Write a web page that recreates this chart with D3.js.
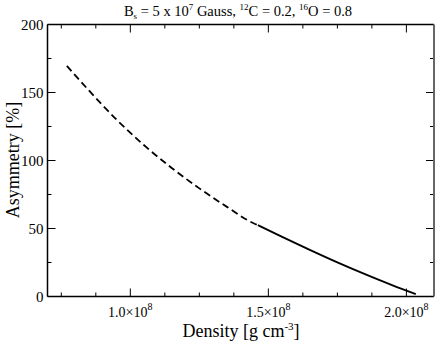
<!DOCTYPE html>
<html><head><meta charset="utf-8">
<script src="https://cdn.jsdelivr.net/npm/d3@7"></script>
<style>body{margin:0;background:#fff}svg{display:block}</style>
</head><body><svg id="c" width="436" height="344" font-family="'Liberation Serif', 'Times New Roman', Times, 'DejaVu Serif', serif"></svg>
<script>
// Density [g cm^-3] and asymmetry [%]
const dashedDensity = [0.77e8, 0.85e8, 0.95e8, 1.05e8, 1.15e8, 1.25e8, 1.35e8, 1.45e8, 1.462e8];
const dashedAsym    = [169.6, 151.5, 130.1, 111.2, 94.5, 79.5, 65.9, 53.5, 52.5];
const solidDensity  = [1.462e8, 1.55e8, 1.65e8, 1.75e8, 1.85e8, 1.95e8, 2.034e8];
const solidAsym     = [52.5, 43.8, 34.3, 25.1, 16.4, 8.2, 1.8];
const xMajorTicks = [1.0e8, 1.5e8, 2.0e8];
const xMinorTicks = [0.75e8, 0.875e8, 1.125e8, 1.25e8, 1.375e8, 1.625e8, 1.75e8, 1.875e8];
const yMajorTicks = [0, 50, 100, 150, 200];
const yMinorTicks = [25, 75, 125, 175];

const svg = d3.select("#c");
const L = 47.5, R = 434, T = 24.5, B = 296.5;
const x = d3.scaleLinear().domain([0.7e8, 2.1e8]).range([L, R]);
const y = d3.scaleLinear().domain([0, 200]).range([B, T]);

const line = d3.line().x(d => x(d[0])).y(d => y(d[1])).curve(d3.curveMonotoneX);
svg.append("path").datum(dashedDensity.map((d,i)=>[d,dashedAsym[i]]))
  .attr("d", line).attr("fill","none").attr("stroke","#000").attr("stroke-width",1.8)
  .attr("stroke-dasharray","7,4");
svg.append("path").datum(solidDensity.map((d,i)=>[d,solidAsym[i]]))
  .attr("d", line).attr("fill","none").attr("stroke","#000").attr("stroke-width",1.8);

// ticks (inward, all four sides)
const g = svg.append("g").attr("stroke","#000").attr("stroke-width",1);
xMajorTicks.forEach(t => {
  g.append("line").attr("x1",x(t)).attr("x2",x(t)).attr("y1",B).attr("y2",B-8);
  g.append("line").attr("x1",x(t)).attr("x2",x(t)).attr("y1",T).attr("y2",T+8);
});
xMinorTicks.forEach(t => {
  g.append("line").attr("x1",x(t)).attr("x2",x(t)).attr("y1",B).attr("y2",B-4);
  g.append("line").attr("x1",x(t)).attr("x2",x(t)).attr("y1",T).attr("y2",T+4);
});
yMajorTicks.forEach(t => {
  g.append("line").attr("x1",L).attr("x2",L+8).attr("y1",y(t)).attr("y2",y(t));
  g.append("line").attr("x1",R).attr("x2",R-8).attr("y1",y(t)).attr("y2",y(t));
});
yMinorTicks.forEach(t => {
  g.append("line").attr("x1",L).attr("x2",L+4).attr("y1",y(t)).attr("y2",y(t));
  g.append("line").attr("x1",R).attr("x2",R-4).attr("y1",y(t)).attr("y2",y(t));
});

// frame
svg.append("line").attr("x1",L).attr("x2",R).attr("y1",T).attr("y2",T).attr("stroke","#000").attr("stroke-width",1.5);
svg.append("line").attr("x1",L).attr("x2",R).attr("y1",B).attr("y2",B).attr("stroke","#000").attr("stroke-width",1.5);
svg.append("line").attr("x1",L).attr("x2",L).attr("y1",T).attr("y2",B).attr("stroke","#000").attr("stroke-width",1.5);
svg.append("line").attr("x1",R).attr("x2",R).attr("y1",T).attr("y2",B).attr("stroke","#666").attr("stroke-width",2);

// y tick labels
yMajorTicks.forEach(t => {
  svg.append("text").attr("x",L-4).attr("y",y(t)+5).attr("text-anchor","end")
    .attr("font-size",15).text(t);
});
// x tick labels
xMajorTicks.forEach(t => {
  const tx = svg.append("text").attr("x",x(t)).attr("y",317).attr("text-anchor","middle").attr("font-size",14);
  tx.append("tspan").text((t/1e8).toFixed(1) + "\u00d710");
  tx.append("tspan").attr("dy",-7).attr("font-size",10).text("8");
});

// axis titles
svg.append("text").attr("transform","translate(19,160) rotate(-90)").attr("text-anchor","middle")
  .attr("font-size",18).text("Asymmetry [%]");
const xt = svg.append("text").attr("x",241).attr("y",337).attr("text-anchor","middle").attr("font-size",18);
xt.append("tspan").text("Density [g cm");
xt.append("tspan").attr("dy",-7).attr("font-size",11).text("-3");
xt.append("tspan").attr("dy",7).text("]");

// title
const tt = svg.append("text").attr("x",238).attr("y",16).attr("text-anchor","middle").attr("font-size",14.5);
tt.append("tspan").text("B");
tt.append("tspan").attr("dy",3).attr("font-size",9).text("s");
tt.append("tspan").attr("dy",-3).text(" = 5 x 10");
tt.append("tspan").attr("dy",-6).attr("font-size",9).text("7");
tt.append("tspan").attr("dy",6).text("  Gauss, ");
tt.append("tspan").attr("dy",-6).attr("font-size",9).text("12");
tt.append("tspan").attr("dy",6).text("C = 0.2, ");
tt.append("tspan").attr("dy",-6).attr("font-size",9).text("16");
tt.append("tspan").attr("dy",6).text("O = 0.8");
</script></body></html>
